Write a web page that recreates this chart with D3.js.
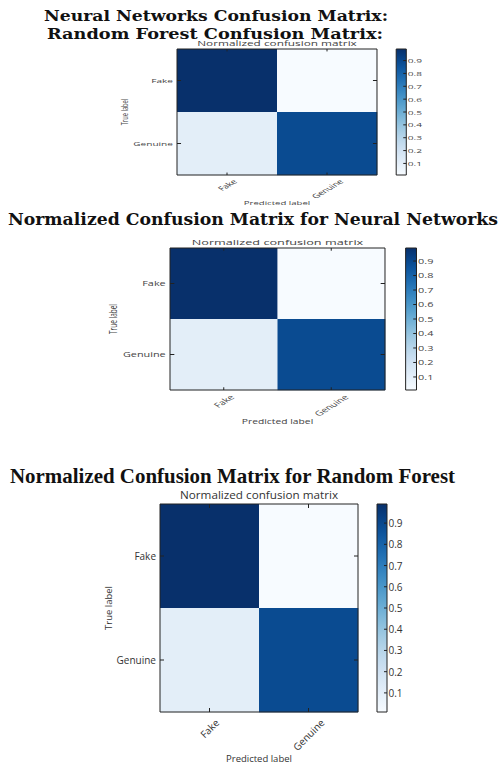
<!DOCTYPE html>
<html><head><meta charset="utf-8">
<script src="https://cdn.jsdelivr.net/npm/d3@7"></script>
<style>html,body{margin:0;padding:0;background:#fff;} svg{display:block;}</style>
</head><body>
<script>
// ---------- data ----------
const classes = ["Fake", "Genuine"];
const topPanelValues    = [[0.99, 0.01], [0.11, 0.89]];
const neuralPanelValues = [[0.99, 0.01], [0.11, 0.89]];
const forestPanelValues = [[0.99, 0.01], [0.11, 0.89]];
const colorbarTicks = [0.1, 0.2, 0.3, 0.4, 0.5, 0.6, 0.7, 0.8, 0.9];
const subtitleText = "Normalized confusion matrix";
const xAxisTitle = "Predicted label";
const yAxisTitle = "True label";
const headingTopLine1 = "Neural Networks Confusion Matrix:";
const headingTopLine2 = "Random Forest Confusion Matrix:";
const headingNeural = "Normalized Confusion Matrix for Neural Networks";
const headingForest = "Normalized Confusion Matrix for Random Forest";

// ---------- layout ----------
const svg = d3.select("body").append("svg").attr("width", 499).attr("height", 767);
svg.append("rect").attr("width", 499).attr("height", 767).attr("fill", "#fff");
const defs = svg.append("defs");

function heading(text, x, y, size, len, family) {
  svg.append("text").attr("x", x).attr("y", y)
    .attr("font-family", family).attr("font-weight", "bold")
    .attr("font-size", size).attr("fill", "#111")
    .attr("textLength", len).attr("lengthAdjust", "spacingAndGlyphs")
    .text(text);
}

const NW = 198, NH = 208; // native matrix size
const sans = "'Open Sans', 'DejaVu Sans', sans-serif";

function drawPanel(id, values, tx, ty, sx, sy, textColor) {
  const g = svg.append("g").attr("transform", `translate(${tx},${ty}) scale(${sx},${sy})`);
  const x = d3.scaleBand().domain(classes).range([0, NW]);
  const y = d3.scaleBand().domain(classes).range([0, NH]);
  const cells = values.flatMap((row, i) => row.map((v, j) => ({t: classes[i], p: classes[j], v})));
  const ext = d3.extent(cells, d => d.v);
  const color = d3.scaleSequential(d3.interpolateBlues).domain(ext);

  g.selectAll("rect.cell").data(cells).join("rect").attr("class", "cell")
    .attr("x", d => x(d.p)).attr("y", d => y(d.t))
    .attr("width", x.bandwidth() + 0.3).attr("height", y.bandwidth() + 0.3)
    .attr("fill", d => color(d.v));
  g.append("rect").attr("width", NW).attr("height", NH).attr("fill", "none")
    .attr("stroke", "#222").attr("stroke-width", 1).attr("vector-effect", "non-scaling-stroke");

  const tl = 4;
  classes.forEach(c => {
    const cy = y(c) + y.bandwidth() / 2, cx = x(c) + x.bandwidth() / 2;
    [[0, cy, tl, cy], [NW - tl, cy, NW, cy], [cx, 0, cx, tl], [cx, NH - tl, cx, NH]].forEach(l => {
      g.append("line").attr("x1", l[0]).attr("y1", l[1]).attr("x2", l[2]).attr("y2", l[3])
        .attr("stroke", "#222").attr("stroke-width", 1).attr("vector-effect", "non-scaling-stroke");
    });
  });

  // y tick labels
  g.selectAll("text.ytick").data(classes).join("text").attr("class", "ytick")
    .attr("x", -4).attr("y", d => y(d) + y.bandwidth() / 2)
    .attr("text-anchor", "end").attr("dominant-baseline", "central")
    .attr("font-family", sans).attr("font-size", 10).attr("fill", textColor).text(d => d);

  // x tick labels rotated 45
  const fs = 10;
  classes.forEach(c => {
    const t = g.append("text").attr("font-family", sans).attr("font-size", fs)
      .attr("fill", textColor).attr("text-anchor", "middle").attr("dominant-baseline", "central").text(c);
    const w = t.node().getComputedTextLength();
    const cyy = NH + 5 + (w + fs * 1.05) * Math.SQRT1_2 / 2;
    t.attr("transform", `translate(${x(c) + x.bandwidth() / 2},${cyy}) rotate(-45)`);
  });

  // titles
  g.append("text").attr("x", NW / 2).attr("y", -5).attr("text-anchor", "middle")
    .attr("font-family", sans).attr("font-size", 11.5).attr("fill", textColor)
    .attr("textLength", 158).attr("lengthAdjust", "spacingAndGlyphs").text(subtitleText);
  g.append("text").attr("x", NW / 2).attr("y", 258).attr("text-anchor", "middle")
    .attr("font-family", sans).attr("font-size", 9.5).attr("fill", textColor).text(xAxisTitle);
  g.append("text").attr("transform", `translate(-52,${NH / 2}) rotate(-90)`)
    .attr("text-anchor", "middle").attr("dominant-baseline", "central")
    .attr("font-family", sans).attr("font-size", 9.5).attr("fill", textColor).text(yAxisTitle);

  // colorbar
  const cbx = 217, cbw = 10;
  const grad = defs.append("linearGradient").attr("id", "grad" + id)
    .attr("x1", 0).attr("y1", 1).attr("x2", 0).attr("y2", 0);
  d3.range(0, 1.0001, 0.05).forEach(t => {
    grad.append("stop").attr("offset", t).attr("stop-color", color(ext[0] + t * (ext[1] - ext[0])));
  });
  g.append("rect").attr("x", cbx).attr("y", 0).attr("width", cbw).attr("height", NH)
    .attr("fill", `url(#grad${id})`).attr("stroke", "#222").attr("stroke-width", 1)
    .attr("vector-effect", "non-scaling-stroke");
  const cb = d3.scaleLinear().domain(ext).range([NH, 0]);
  colorbarTicks.forEach(v => {
    g.append("line").attr("x1", cbx + cbw - 3).attr("x2", cbx + cbw).attr("y1", cb(v)).attr("y2", cb(v))
      .attr("stroke", "#222").attr("stroke-width", 1).attr("vector-effect", "non-scaling-stroke");
    g.append("text").attr("x", cbx + cbw + 1.5).attr("y", cb(v)).attr("dominant-baseline", "central")
      .attr("font-family", sans).attr("font-size", 10).attr("fill", textColor).text(d3.format(".1f")(v));
  });
}

heading(headingTopLine1, 44, 21, 15, 344, "'DejaVu Serif', serif");
heading(headingTopLine2, 47, 39, 15, 336, "'DejaVu Serif', serif");
drawPanel(1, topPanelValues, 177, 49, 200 / NW, 126 / NH, "#444");

heading(headingNeural, 8, 225, 16, 490, "'DejaVu Serif', serif");
drawPanel(2, neuralPanelValues, 170, 248, 215 / NW, 142 / NH, "#444");

heading(headingForest, 10, 483, 21, 445, "'Liberation Serif', 'Times New Roman', serif");
drawPanel(3, forestPanelValues, 160, 504, 1, 1, "#333");
</script>
</body></html>
